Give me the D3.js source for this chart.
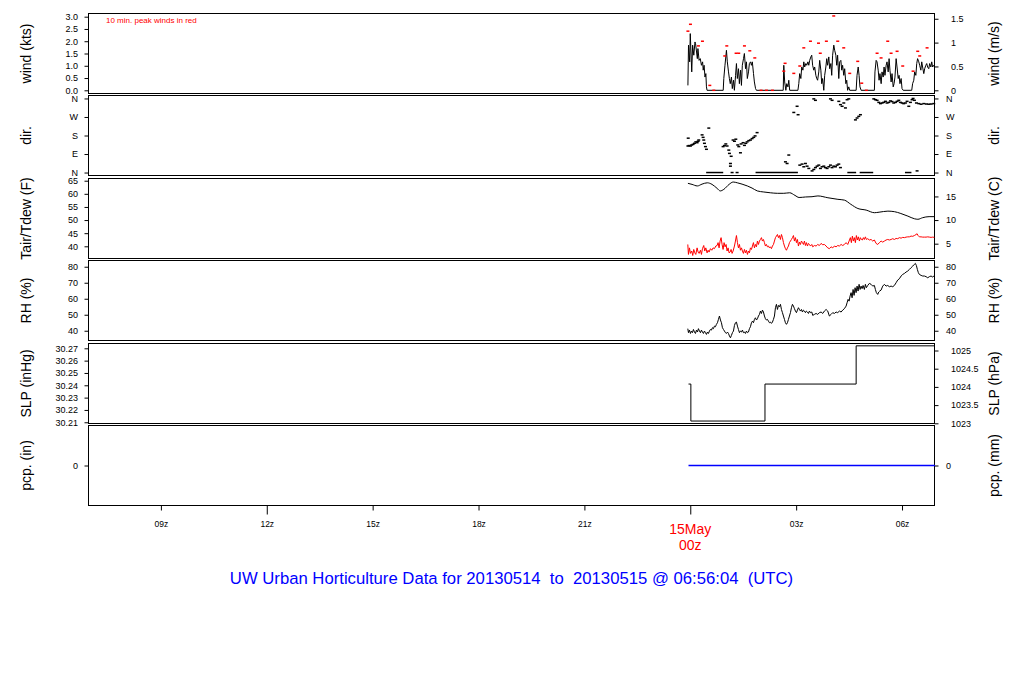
<!DOCTYPE html>
<html lang="en">
<head>
<meta charset="UTF-8">
<title>UW Urban Horticulture Data</title>
<script src="https://cdnjs.cloudflare.com/ajax/libs/d3/7.8.5/d3.min.js"></script>
<style>
  body { margin: 0; background: #fff; }
  svg { display: block; font-family: "Liberation Sans", Arial, sans-serif; }
</style>
</head>
<body>
<script>

// ---- data (minutes after 2013-05-15 00:00 UTC) ----

var windMin = [
  -4,-3,-1,0,2.5,4,6,8,9,12,
  13,15,17,19,21,22,23.5,25,26.5,27.5,
  28.5,56,57,59,61.5,63,65,66.5,68,70,
  71.5,73.5,75,77,78.5,80,82,83.5,85.5,87,
  88.5,90.5,92,94,95.5,97,99,100.5,102.5,104,
  105.5,107.5,109,111,112.5,158,159,160.5,162.5,164,
  166,167.5,169,183,184.5,186,188,189.5,191.5,193,
  194.5,196.5,198,200,201.5,203,205,206.5,208,210,
  211.5,213.5,215,216.5,218.5,220,222,223.5,225,227,
  228.5,230.5,232,233.5,235.5,237,239,240.5,242,244,
  245.5,247.5,249,250.5,252.5,254,256,257.5,259,261,
  262.5,264.5,266,267.5,269.5,271,282,283.5,285.5,287,
  288.5,290.5,313,314,316,317.5,319.5,321,322.5,324.5,
  326,328,329.5,331,333,334.5,336.5,338,339.5,341.5,
  343,345,346.5,348,350,351.5,353.5,355,356.5,358.5,
  360,362,376.5,378,380,381.5,383.5,385,386.5,388.5,
  390,392,393.5,395,397,398.5,400.5,402,403.5,405.5,
  407,409,410.5,412,414,415.5];
var windKts = [
  0.20,1.84,1.16,2.31,0.75,1.84,1.43,1.97,1.90,1.29,
  1.70,1.22,1.29,1.02,1.16,0.82,1.02,0.54,0.68,0.14,
  0,0,0.48,1.02,1.63,1.16,0.75,0.48,0.27,0.54,
  0.07,0.41,0,0.61,1.09,0.48,0.88,0.27,0.82,0.20,
  1.02,1.29,1.50,0.88,1.16,0.48,0.75,1.09,1.16,1.02,
  1.16,0.68,0.34,0.07,0,0,1.02,0.34,0,0.27,
  0.14,0.41,0,0,0.27,0.68,0.48,0.95,0.82,1.16,
  0.95,1.09,1.02,1.16,1.02,1.22,1.36,1.43,1.02,0.82,
  0.95,0.61,0.48,0.41,0.75,1.22,0.82,0.27,0.48,0,
  0.61,0.95,1.29,1.02,1.36,0.88,1.09,0.61,1.43,1.84,
  1.63,1.43,1.02,1.43,0.48,1.16,1.22,0.82,1.02,0.61,
  0.88,0.27,0.41,0,0.14,0,0,0.61,0.95,0.61,
  0.14,0,0,0.75,1.22,1.16,0.82,0.41,0.68,0.27,
  0.75,0.54,0.95,0.61,1.02,1.16,0.75,1.29,0.82,0.34,
  0.68,0.14,0.27,0.54,1.29,0.95,0.48,0.61,0.27,0.48,
  0.07,0,0,0.27,0.41,0.75,0.61,1.09,1.29,1.16,
  1.02,0.82,1.16,0.95,0.68,0.88,1.02,1.09,0.95,0.88,
  1.09,0.95,1.16,0.95,1.02,0.95];

// 10 min peak winds (red)
var peakMin = [-4,0.3,13.9,20.7,33.2,40,58.6,62.1,77.9,82.4,
  92.1,101.2,109.7,120.4,129.5,139.7,159,161.2,176,186.2,
  193,204.3,218,221,231.4,243.9,250.7,260.9,271.1,284.7,
  291.5,299.4,317.6,324.4,335.7,341.4,351.6,361.2,378.8,386.7,
  390.1,402.6];
var peakKts = [2.41,2.69,1.81,2.00,0.20,0,1.40,1.81,1.51,1.51,
  1.81,1.61,1.32,0,0,0,0.78,1.10,0.69,0.99,
  1.73,2.00,1.92,1.51,2.00,3.03,2.00,1.73,0.69,1.18,
  0.29,0,1.51,1.32,2.00,1.51,1.59,0.99,0.78,1.59,
  1.40,1.73];

// wind direction (degrees)
var dirMin = [
  -4,-3.5,-2,0.3,2.5,4.8,7.1,9.4,11.6,13.3,
  14.4,20.1,21.8,22.9,24.1,25.8,27.5,31.5,
  55.8,58.1,60.4,62.6,65.5,66.6,68.3,68.3,69.5,71.1,
  72.8,75.1,77.4,79.6,80.7,82.5,85.3,86.4,89.8,92.1,
  94.4,96.6,99.5,102.3,105.1,107.9,110.2,113.6,
  161.8,164.6,167.5,176,181.6,183.3,
  186.2,190.1,193,195.8,198.6,201.5,207.1,210,212.8,215.6,
  218.5,221.3,224.1,227,229.8,232.6,235.5,238.3,241.1,243.9,
  246.8,249.6,252.5,255.3,
  210,212.8,238.3,241.1,252.5,255.3,258.1,261,263.8,266.6,269.5,
  280.8,283.6,286.5,289.3,
  312,314.8,317.6,320.5,323.3,326.1,328.9,331.8,334.6,337.5,
  340.3,343.1,345.9,348.8,351.6,354.5,357.3,360.1,362.9,365.8,
  368.6,371.5,374.3,377.1,378.8,381.1,384.5,385.6,388.5,392.4,
  397,401.5,405.5,409.4,413.9];
var dirDeg = [
  129,167,131,129,134,137,142,149,145,152,
  158,183,171,158,142,126,113,216,
  126,131,139,129,109,93,44,31,79,0,
  158,152,162,0,134,126,96,139,145,132,
  142,149,155,158,165,171,178,194,
  52,44,85,292,322,281,
  36,41,28,44,31,20,8,15,24,31,
  36,20,28,31,24,20,28,36,24,31,
  28,36,41,24,
  358,351,358,351,346,330,322,338,314,354,358,
  256,265,273,281,
  358,354,351,341,335,338,341,346,338,341,
  348,345,338,341,346,351,341,338,335,338,
  346,322,341,354,360,351,338,8,335,332,
  335,333,332,333,335];
// calm spells, direction reported as N
var calmFrom = [27, 111, 267, 288, 365];
var calmTo   = [56, 183, 282, 311, 376];

// air temperature (F)
var tairMin = [-4,3,12,20,29,37,46,51,57,66,
  73,80,88,97,105,114,125,136,148,159,
  169,178,185,196,207,217,234,251,262,273,
  285,299,313,321,336,347,358,370,381,387,
  395,406,416];
var tairF = [64.0,63.6,63.0,63.7,64.2,63.6,62.0,61.1,61.7,63.6,
  64.5,64.2,63.7,63.0,62.2,61.1,60.7,60.4,60.2,60.2,
  60.4,59.4,58.6,58.8,58.9,59.2,58.5,57.9,57.6,56.0,
  54.4,53.8,52.8,53.0,53.4,53.2,52.5,51.5,50.5,50.3,
  50.9,51.3,51.3];

// dew point (F)
var dewMin = [
  -4.2,-3.1,-1.4,0.3,2.5,4.2,5.9,7.7,9.4,11.6,
  13.3,15.0,17.3,19.0,20.7,22.9,24.6,26.4,28.6,30.3,
  32.0,34.3,36.6,38.8,41.1,43.4,45.6,47.3,49.0,50.7,
  52.4,54.1,55.8,57.5,59.2,60.9,62.6,64.3,66.0,67.7,
  69.4,71.1,72.8,75.1,76.8,78.5,80.2,81.9,83.6,85.3,
  87.0,88.7,90.4,92.1,93.8,95.5,97.2,98.9,100.6,102.3,
  104.0,105.7,107.4,109.1,110.8,112.5,114.2,115.9,117.6,119.3,
  121.0,122.7,124.4,126.1,127.8,129.5,131.2,132.9,134.6,136.3,
  138.0,139.7,141.4,143.1,144.8,146.5,148.2,149.9,151.6,153.3,
  155.0,156.7,158.4,160.1,161.8,163.5,165.2,166.9,168.6,170.3,
  172.0,173.7,175.4,177.1,178.8,180.5,182.2,183.9,185.6,187.3,
  189.0,190.7,192.4,194.1,195.8,197.5,199.2,200.9,202.6,204.3,
  206.6,
  208.2,211.0,213.9,216.7,219.5,222.4,225.2,228.0,230.9,233.7,
  236.5,239.4,242.2,245.0,247.9,250.7,253.5,256.4,259.2,262.0,
  264.9,267.7,270.0,272.2,273.9,275.6,277.3,279.0,280.7,282.4,
  284.1,285.8,287.5,289.2,290.9,292.6,294.3,296.0,297.7,299.4,
  301.7,304.5,307.4,310.2,313.0,315.9,318.7,321.5,324.4,327.2,
  330.0,332.9,335.7,338.5,341.4,344.2,347.0,349.9,352.7,355.5,
  358.4,361.2,364.0,366.9,369.7,372.5,375.4,378.2,381.0,383.9,
  385.6,387.3,389.5,392.4,395.2,398.0,400.9,403.7,406.5,409.4,
  412.2,415.0];
var dewF = [
  40.7,36.9,39.4,37.3,38.2,36.5,38.8,37.5,36.9,39.4,
  37.8,37.3,38.5,36.9,39.1,40.3,38.2,39.4,37.5,38.5,
  37.8,39.1,38.5,39.4,39.1,40.1,40.3,41.4,39.4,42.0,
  43.3,40.7,38.8,41.4,39.8,40.7,38.2,39.4,37.5,37.8,
  38.8,37.3,38.2,40.1,42.0,44.1,41.4,39.4,40.7,38.5,
  39.4,38.2,37.3,38.8,37.5,38.5,36.9,38.2,37.5,39.4,
  38.8,40.1,41.4,39.4,40.7,39.8,42.0,40.7,42.0,42.6,
  43.3,42.0,42.6,41.4,40.1,40.7,39.8,40.1,39.4,39.8,
  39.1,40.1,40.7,42.0,43.3,43.9,44.5,43.3,44.1,42.6,
  44.5,43.3,41.4,40.1,39.1,38.5,39.4,40.1,41.4,42.0,
  42.6,43.3,44.1,42.0,43.3,41.4,42.6,40.1,41.6,40.7,
  42.0,41.4,40.7,42.0,40.3,41.4,40.1,41.1,40.7,40.1,
  40.7,
  39.8,40.3,40.1,40.7,40.3,41.1,40.6,40.7,40.1,39.4,
  39.1,39.8,39.4,40.1,39.8,40.3,40.1,40.7,40.3,40.7,
  41.4,40.7,42.0,43.3,41.4,43.9,42.0,43.3,41.4,44.1,
  42.4,43.6,42.0,43.3,42.6,42.4,43.3,42.6,43.6,42.6,
  42.9,42.4,42.6,42.0,42.4,41.1,40.7,41.4,42.0,41.6,
  42.0,42.4,42.6,42.4,42.6,42.9,42.6,43.0,42.9,43.3,
  43.1,43.4,43.3,43.5,43.6,43.6,43.9,43.8,44.1,44.5,
  44.8,44.1,43.6,43.6,43.5,43.5,43.5,43.6,43.5,43.4,
  43.5,43.4];

// relative humidity (%)
var rhMin = [
  -4.2,-3.1,-1.4,0.3,2.0,3.7,5.4,7.1,8.8,10.5,
  12.2,13.9,15.6,17.3,19.0,20.7,22.4,24.1,25.8,27.5,
  29.2,30.9,32.6,34.3,36.0,37.7,39.4,41.1,42.8,44.5,
  46.2,47.9,49.6,51.3,53.0,54.7,56.4,58.1,59.8,61.5,
  63.2,64.9,66.6,68.3,70.0,71.7,73.4,75.1,76.8,78.5,
  80.2,81.9,83.6,85.3,87.0,88.7,90.4,92.1,93.8,95.5,
  97.2,98.9,100.6,102.3,104.0,105.7,107.4,109.1,110.8,112.5,
  114.2,115.9,117.6,119.3,121.0,122.7,124.4,126.1,127.8,129.5,
  131.2,132.9,134.6,136.3,138.0,139.7,141.4,143.1,144.8,146.5,
  148.2,149.9,151.6,153.3,155.0,156.7,158.4,160.1,161.8,163.5,
  165.2,166.9,168.6,170.3,172.0,173.7,175.4,177.1,178.8,180.5,
  182.2,183.9,185.6,187.3,189.0,190.7,192.4,194.1,195.8,197.5,
  199.2,200.9,202.6,204.3,206.6,
  208.2,211.0,213.9,216.7,219.5,222.4,225.2,228.0,230.9,233.7,
  236.5,239.4,242.2,245.0,247.9,250.7,253.5,256.4,259.2,262.0,
  264.9,266.6,268.3,270.0,271.7,273.4,275.1,276.8,278.5,280.2,
  281.9,283.6,285.3,287.0,288.7,290.4,292.1,293.8,296.0,297.7,
  299.4,301.7,304.5,307.4,310.2,313.0,314.7,316.4,318.7,320.4,
  322.1,324.4,327.2,330.0,332.9,335.7,338.5,341.4,344.2,347.0,
  349.9,352.7,355.5,358.4,361.2,364.0,366.9,369.7,372.5,375.4,
  378.2,381.0,382.7,384.4,386.1,387.8,389.5,392.4,395.2,398.0,
  400.9,403.7,406.5,409.4,412.2,415.0];
var rhPct = [
  41.3,38.8,40.4,38.3,39.8,38.8,40.8,39.2,38.3,40.4,
  39.2,41.3,39.8,38.8,40.4,39.2,38.3,39.8,38.8,37.7,
  39.2,38.3,39.8,40.8,40.4,41.9,41.3,42.9,42.5,44.0,
  45.0,47.1,49.2,46.7,45.0,41.9,40.8,39.8,38.8,38.3,
  39.2,38.3,36.7,35.6,37.1,38.8,39.8,43.3,45.0,45.4,
  42.9,40.8,38.8,39.8,39.2,40.4,38.8,39.2,38.3,39.8,
  38.8,39.2,41.3,42.5,45.0,46.0,45.0,47.1,48.1,46.7,
  47.5,49.2,50.2,52.3,50.8,52.9,51.7,49.2,47.5,46.7,
  47.1,46.0,45.0,45.4,44.6,45.4,47.1,49.2,54.4,56.5,
  53.3,55.8,55.0,56.5,53.3,51.3,49.2,47.1,45.0,44.0,
  45.0,47.1,49.2,51.3,54.4,56.5,55.4,53.8,52.3,51.3,
  52.9,54.4,53.3,52.3,53.3,51.7,52.9,52.3,51.3,52.3,
  51.7,50.8,52.3,51.3,51.7,
  49.6,50.2,50.8,50.2,51.3,51.7,50.8,52.3,53.3,52.3,
  49.2,50.2,51.3,50.8,51.7,51.3,52.3,51.7,52.9,53.8,
  55.4,57.5,59.6,58.5,61.7,63.8,60.6,65.8,62.1,66.9,
  63.8,67.9,64.8,69.0,65.8,67.9,66.3,68.3,65.8,69.0,
  66.9,68.3,69.6,69.0,67.9,68.3,65.8,63.8,62.7,64.2,
  64.8,65.4,67.9,69.0,67.9,68.3,67.5,67.9,67.5,68.3,
  70.0,71.7,72.5,74.2,75.2,75.8,76.7,77.3,78.3,79.4,
  80.4,81.5,82.1,80.8,78.3,76.3,75.2,74.6,74.2,74.2,
  73.8,73.1,73.8,74.2,73.5,74.6];

// sea level pressure (inHg), steps
var slpMin = [-3, 1, 127, 282, 416];
var slpInHg = [30.241, 30.211, 30.241, 30.272, 30.272];

// precipitation (in)
var pcpMin = [-3, 416];
var pcpIn = [0, 0];

// ticks and labels
var windKtsTicks = [0, 0.5, 1, 1.5, 2, 2.5, 3];
var windMsTicks = [0, 0.5, 1, 1.5];
var dirTicks = [0, 90, 180, 270, 360];
var dirLabels = ['N', 'E', 'S', 'W', 'N'];
var tempFTicks = [40, 45, 50, 55, 60, 65];
var tempCTicks = [5, 10, 15];
var rhTicks = [40, 50, 60, 70, 80];
var slpInTicks = [30.21, 30.22, 30.23, 30.24, 30.25, 30.26, 30.27];
var slpHpaTicks = [1023, 1023.5, 1024, 1024.5, 1025];
var pcpTicks = [0];
var leftTitles = ['wind (kts)', 'dir.', 'Tair/Tdew (F)', 'RH (%)', 'SLP (inHg)', 'pcp. (in)'];
var rightTitles = ['wind (m/s)', 'dir.', 'Tair/Tdew (C)', 'RH (%)', 'SLP (hPa)', 'pcp. (mm)'];

// ---- layout ----
var w = 1024, h = 700;
var left = 88, right = 935;
var tops = [13.5, 95.5, 178.5, 260.5, 343.5, 425.5], ph = 80;

var svg = d3.select('body').append('svg')
            .attr('width', w)
            .attr('height', h)

svg.append('rect').attr('width', w).attr('height', h).attr('fill', '#fff')

var t0 = Date.UTC(2013, 4, 15, 0, 0, 0);
function tm(m) { return new Date(t0 + m * 60000); }

var x = d3.scaleUtc()
          .domain([new Date(Date.UTC(2013, 4, 14, 6, 56, 4)), new Date(Date.UTC(2013, 4, 15, 6, 56, 4))])
          .range([left, right])

function yScale(i, dom) {
    return d3.scaleLinear().domain(dom).range([tops[i] + ph, tops[i]]);
}

var yWind = yScale(0, [-0.13, 3.13]);
var yDir = yScale(1, [-14.4, 374.4]);
var yTemp = yScale(2, [35.35, 65.84]);
var yRH = yScale(3, [33.9, 83.9]);
var ySLP = yScale(4, [30.209, 30.2739]);
var yPcp = yScale(5, [-1, 1]);
var ys = [yWind, yDir, yTemp, yRH, ySLP, yPcp];

// panel boxes
tops.forEach(function (t) {
    svg.append('rect')
       .attr('x', left + 0.5).attr('y', t)
       .attr('width', right - left - 1).attr('height', ph)
       .attr('fill', 'none').attr('stroke', '#000').attr('stroke-width', 1)
})

// axes
function styleAxis(g) {
    g.select('.domain').remove();
    g.attr('font-family', '"Liberation Sans", Arial, sans-serif').attr('font-size', 9);
    g.selectAll('text').attr('fill', '#000');
    g.selectAll('line').attr('stroke', '#000');
}

function axes(i, lv, lf, rv, rf, rpad) {
    var y = ys[i];
    svg.append('g')
       .attr('transform', 'translate(' + (left + 0.5) + ',0)')
       .call(d3.axisLeft(y).tickValues(lv).tickSize(4).tickPadding(6.5).tickFormat(lf))
       .call(styleAxis)
    svg.append('g')
       .attr('transform', 'translate(' + (right - 0.5) + ',0)')
       .call(d3.axisRight(y).tickValues(rv).tickSize(4).tickPadding(rpad).tickFormat(rf))
       .call(styleAxis)
    var cy = tops[i] + ph / 2;
    svg.append('text')
       .attr('transform', 'translate(31,' + cy + ') rotate(-90)')
       .attr('text-anchor', 'middle').attr('font-size', 14).attr('fill', '#000')
       .text(leftTitles[i])
    svg.append('text')
       .attr('transform', 'translate(999,' + cy + ') rotate(-90)')
       .attr('text-anchor', 'middle').attr('font-size', 14).attr('fill', '#000')
       .text(rightTitles[i])
}

var ktsPerMs = 1.94384, hPaPerIn = 33.8639;

axes(0, windKtsTicks, d3.format('.1f'),
     windMsTicks.map(function (v) { return v * ktsPerMs; }),
     function (d, i) { return String(windMsTicks[i]); }, 12.5)
axes(1, dirTicks, function (d, i) { return dirLabels[i]; },
     dirTicks, function (d, i) { return dirLabels[i]; }, 7.5)
axes(2, tempFTicks, d3.format('d'),
     tempCTicks.map(function (c) { return c * 9 / 5 + 32; }),
     function (d, i) { return String(tempCTicks[i]); }, 7.5)
axes(3, rhTicks, d3.format('d'), rhTicks, d3.format('d'), 7.5)
axes(4, slpInTicks, d3.format('.2f'),
     slpHpaTicks.map(function (v) { return v / hPaPerIn; }),
     function (d, i) { return String(slpHpaTicks[i]); }, 12.5)
axes(5, pcpTicks, d3.format('d'), pcpTicks, d3.format('d'), 7.5)

// ---- marks ----
function drawLine(mins, vals, y, color, curve) {
    var line = d3.line()
                 .x(function (d) { return x(tm(d[0])); })
                 .y(function (d) { return y(d[1]); })
                 .curve(curve || d3.curveLinear);
    return svg.append('path')
       .datum(d3.zip(mins, vals))
       .attr('d', line)
       .attr('fill', 'none').attr('stroke', color)
       .attr('stroke-width', 1).attr('stroke-linejoin', 'round')
}

drawLine(windMin, windKts, yWind, '#000')
svg.append('g').selectAll('rect')
   .data(d3.zip(peakMin, peakKts))
   .enter().append('rect')
   .attr('x', function (d) { return x(tm(d[0])) - 1.5; })
   .attr('y', function (d) { return yWind(d[1]) - 0.75; })
   .attr('width', 3).attr('height', 1.5)
   .attr('fill', '#ff0000')

svg.append('text')
   .attr('x', 106).attr('y', 23)
   .attr('font-size', 8).attr('fill', '#ff0000')
   .text('10 min. peak winds in red')

svg.append('g').selectAll('line')
   .data(d3.zip(calmFrom, calmTo))
   .enter().append('line')
   .attr('x1', function (d) { return x(tm(d[0])); })
   .attr('x2', function (d) { return x(tm(d[1])); })
   .attr('y1', yDir(0)).attr('y2', yDir(0))
   .attr('stroke', '#000').attr('stroke-width', 1.5)

svg.append('g').selectAll('rect')
   .data(d3.zip(dirMin, dirDeg))
   .enter().append('rect')
   .attr('x', function (d) { return x(tm(d[0])) - 1.5; })
   .attr('y', function (d) { return yDir(d[1]) - 0.75; })
   .attr('width', 3).attr('height', 1.5)
   .attr('fill', '#000')

drawLine(tairMin, tairF, yTemp, '#000', d3.curveMonotoneX)
drawLine(dewMin, dewF, yTemp, '#ff0000')
drawLine(rhMin, rhPct, yRH, '#000')
drawLine(slpMin, slpInHg, ySLP, '#000', d3.curveStepAfter)
drawLine(pcpMin, pcpIn, yPcp, '#0000ff').attr('stroke-width', 1.5)

// ---- time axis ----
var bottom = tops[5] + ph;
var hourTicks = d3.utcHour.every(3).range(x.domain()[0], x.domain()[1]);

var xg = svg.append('g')
            .attr('transform', 'translate(0,' + bottom + ')')
            .call(d3.axisBottom(x).tickValues(hourTicks).tickSize(5).tickPadding(10.5)
                  .tickFormat(function (d) {
                      return d.getUTCHours() === 0 ? '' : d3.utcFormat('%H')(d) + 'z';
                  }))
xg.select('.domain').remove();
xg.attr('font-family', '"Liberation Sans", Arial, sans-serif').attr('font-size', 8.5);
xg.selectAll('text').attr('fill', '#000');
xg.selectAll('.tick line').attr('stroke', '#000')
  .attr('y2', function (d) { return d.getUTCHours() % 12 === 0 ? 9 : 5; });

var midnight = tm(0);
svg.append('text')
   .attr('x', x(midnight)).attr('y', 533.5)
   .attr('text-anchor', 'middle').attr('font-size', 14).attr('fill', '#ff0000')
   .text(d3.utcFormat('%d%b')(midnight))
svg.append('text')
   .attr('x', x(midnight)).attr('y', 549.5)
   .attr('text-anchor', 'middle').attr('font-size', 14).attr('fill', '#ff0000')
   .text('00z')

svg.append('text')
   .attr('x', (left + right) / 2).attr('y', 584)
   .attr('text-anchor', 'middle').attr('font-size', 16.7).attr('fill', '#0000ff')
   .attr('xml:space', 'preserve').style('white-space', 'pre')
   .text('UW Urban Horticulture Data for 20130514  to  20130515 @ 06:56:04  (UTC)')

</script>
</body>
</html>
